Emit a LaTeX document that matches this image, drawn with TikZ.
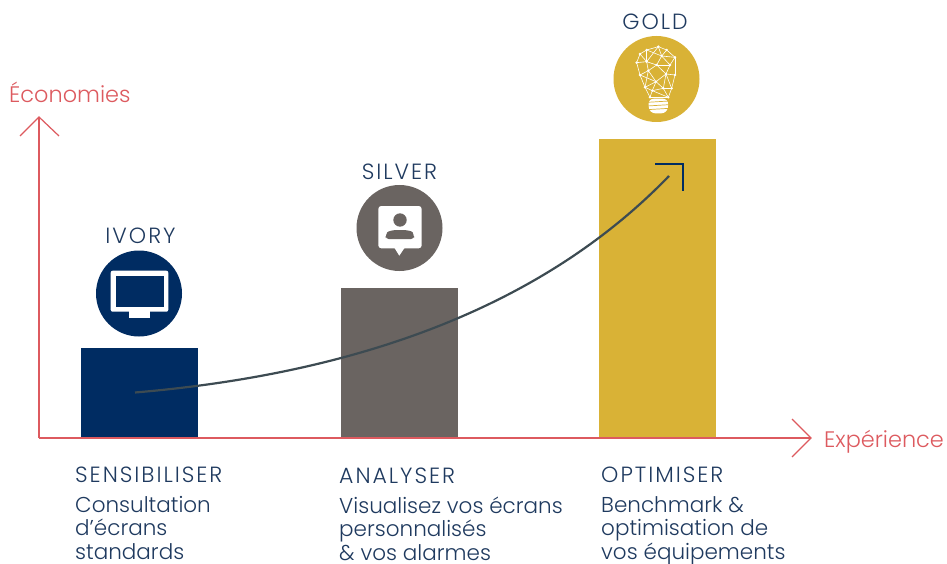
\documentclass[tikz,border=0pt]{standalone}
\usepackage{fontspec}
\setmainfont{Poppins Light}
\newfontfamily\capsf[LetterSpace=9]{Poppins Light}
\definecolor{navy}{HTML}{002C62}
\definecolor{greyb}{HTML}{6A6461}
\definecolor{goldb}{HTML}{D9B236}
\definecolor{redl}{HTML}{DD5A5F}
\definecolor{txt}{HTML}{1F3A5F}
\definecolor{curvec}{HTML}{3D4B52}
\begin{document}
\begin{tikzpicture}[x=1pt,y=-1pt,
  bar/.style={inner sep=0,outer sep=0,minimum width=116.5pt,anchor=south west},
  disc/.style={circle,inner sep=0,outer sep=0,minimum size=86pt},
  axis/.style={draw=redl,line width=1.2pt,line join=miter},
  title/.style={text=txt,font=\capsf\fontsize{22}{24}\selectfont,anchor=base,inner sep=0},
  head/.style={text=txt,font=\capsf\fontsize{22}{24}\selectfont,anchor=base west,inner sep=0},
  body/.style={text=txt,font=\fontsize{21.5}{23.6}\selectfont,anchor=north west,inner sep=0,align=left},
  axl/.style={text=redl,font=\fontsize{22.4}{24}\selectfont,anchor=base west,inner sep=0},
  web/.style={draw=white,line width=0.6pt}]
\useasboundingbox (0,0) rectangle (947,564);
\fill[white] (0,0) rectangle (947,564);
% bars
\node[bar,fill=navy,minimum height=90pt] (b1) at (81,438) {};
\node[bar,fill=greyb,minimum height=150pt] (b2) at (341,438) {};
\node[bar,fill=goldb,minimum height=299pt] (b3) at (599,438) {};
% discs
\node[disc,fill=navy] (c1) at (139,293.5) {};
\node[disc,fill=greyb] (c2) at (399.5,228) {};
\node[disc,fill=goldb] (c3) at (656.5,79) {};
% axes
\coordinate (o) at (39,438);
\coordinate (ytop) at (39,117);
\coordinate (xend) at (811,438);
\draw[axis] (o) -- (ytop);
\draw[axis] (o) -- (xend);
\draw[axis] (20,136) -- (ytop) -- (59,136);
\draw[axis] (792,419) -- (xend) -- (792,457);
% curve
\coordinate (cs) at (135,392.5);
\coordinate (ce) at (669,176);
\draw[curvec,line width=2.2pt] (cs) .. controls (330,376) and (530,320) .. (ce);
\draw[navy,line width=2.6pt] (655,164) -- (683,164) -- (683,191);
% monitor
\fill[white,rounded corners=2pt] (110.7,270.7) rectangle (168.3,311.7);
\fill[navy] (115.7,276) rectangle (164,307.3);
\fill[white] (129.3,311) rectangle (150,318.3);
% profile
\fill[white,rounded corners=3pt] (378.3,206) rectangle (421.7,248.3);
\fill[white] (394.5,248) -- (399.3,255.7) -- (404.5,248) -- cycle;
\fill[greyb] (400,220) circle (6.7);
\fill[greyb,rounded corners=3pt] (385.7,239) -- (385.7,235) .. controls (388,231) and (394,230) .. (400,230) .. controls (406,230) and (412,231) .. (414,235) -- (414,239) -- cycle;
% bulb
\begin{scope}[shift={(590,0)},x=0.3333pt,y=-0.3333pt]
\coordinate (p1) at (205,140); \coordinate (p2) at (170,150); \coordinate (p3) at (150,162);
\coordinate (p4) at (140,188); \coordinate (p5) at (150,225); \coordinate (p6) at (165,262);
\coordinate (p7) at (180,292); \coordinate (p8) at (235,292); \coordinate (p9) at (245,265);
\coordinate (p10) at (255,225); \coordinate (p11) at (255,172); \coordinate (p12) at (230,150);
\coordinate (p13) at (200,195); \coordinate (p14) at (170,185); \coordinate (p15) at (215,168);
\coordinate (p16) at (198,245); \coordinate (p17) at (220,265); \coordinate (p18) at (175,212);
\coordinate (p19) at (228,222); \coordinate (p20) at (187,272); \coordinate (p21) at (240,195);
\foreach \a/\b in {1/2,2/3,3/4,4/5,5/6,6/7,7/8,8/9,9/10,10/11,11/12,12/1,1/15,15/12,15/11,15/13,13/14,14/2,14/3,14/4,14/18,18/5,18/13,18/16,13/19,13/21,21/11,21/19,21/15,19/10,19/16,19/17,16/5,16/6,16/20,16/17,17/9,17/8,20/7,20/6,20/17,20/8,1/14,2/15,18/6,19/9}
  \draw[web] (p\a) -- (p\b);
\foreach \i in {1,...,21}
  \fill[white] (p\i) circle (4);
\fill[white,rounded corners=6pt] (174,296) -- (236,296) -- (232,340) -- (178,340) -- cycle;
\foreach \y in {305,316,327}
  \draw[goldb,line width=0.7pt] (172,\y+2) -- (238,\y-2);
\end{scope}
% labels
\node[title] (t1) at (140.5,243) {IVORY};
\node[title] (t2) at (399.5,179) {SILVER};
\node[title] (t3) at (655,30) {GOLD};
\node[axl] (ly) at (9,103) {Économies};
\node[axl] (lx) at (824,447) {Expérience};
\node[head] (h1) at (75,482) {SENSIBILISER};
\node[head] (h2) at (339,483) {ANALYSER};
\node[head] (h3) at (601,482) {OPTIMISER};
\node[body] (d1) at (75,496) {Consultation\\d’écrans\\standards};
\node[body] (d2) at (339,496.5) {Visualisez vos écrans\\personnalisés\\\& vos alarmes};
\node[body] (d3) at (601,496) {Benchmark \&\\optimisation de\\vos équipements};
\end{tikzpicture}
\end{document}
